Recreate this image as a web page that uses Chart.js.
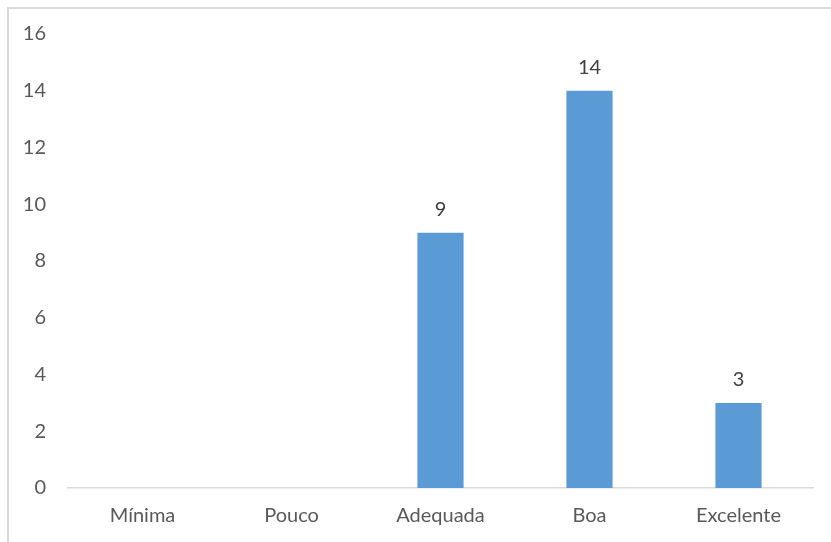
<!DOCTYPE html>
<html>
<head>
<meta charset="utf-8">
<script src="https://cdn.jsdelivr.net/npm/chart.js@4"></script>
<style>
  html, body { margin: 0; padding: 0; background: #fff; }
  #wrap { position: relative; width: 831px; height: 542px; overflow: hidden; }
  #frame { position: absolute; left: 7px; top: 7px; width: 900px; height: 600px;
           border-left: 2px solid #d9d9d9; border-top: 2px solid #d9d9d9; box-sizing: border-box; }
  canvas { position: absolute; left: 0; top: 0; }
</style>
</head>
<body>
<div id="wrap">
  <div id="frame"></div>
  <canvas id="bars" width="831" height="542"></canvas>
</div>
<script>
const categories = ['Mínima', 'Pouco', 'Adequada', 'Boa', 'Excelente'];
const counts = [0, 0, 9, 14, 3];
const yTicks = [0, 2, 4, 6, 8, 10, 12, 14, 16];

// value labels above each non-zero bar
const valueLabels = {
    id: 'valueLabels',
    afterDatasetsDraw(chart) {
        const ctx = chart.ctx;
        const meta = chart.getDatasetMeta(0);
        ctx.save();
        ctx.font = '20px Lato';
        ctx.fillStyle = '#404040';
        ctx.textAlign = 'center';
        ctx.textBaseline = 'alphabetic';
        meta.data.forEach((bar, i) => {
            if (!counts[i]) return;
            ctx.fillText(String(counts[i]), bar.x, bar.y - 17);
        });
        ctx.restore();
    }
};

const ctx = document.getElementById('bars');

new Chart(ctx, {
    type: 'bar',
    data: {
        labels: categories,
        datasets: [{
            data: counts,
            backgroundColor: '#5b9bd5',
            categoryPercentage: 1,
            barPercentage: 0.31
        }]
    },
    options: {
        responsive: false,
        animation: false,
        layout: { padding: { top: 34, right: 18, bottom: 0, left: 0 } },
        plugins: { legend: { display: false }, tooltip: { enabled: false } },
        scales: {
            x: {
                grid: { display: false, drawTicks: false },
                border: { display: true, color: '#d9d9d9', width: 1.5 },
                ticks: { color: '#595959', font: { family: 'Lato', size: 20 }, padding: 16 },
                afterFit(scale) { scale.height = 54; }
            },
            y: {
                min: 0,
                max: 16,
                afterBuildTicks(scale) { scale.ticks = yTicks.map(v => ({ value: v })); },
                grid: { display: false, drawTicks: false },
                border: { display: false },
                ticks: { color: '#595959', font: { family: 'Lato', size: 20 }, padding: 22 },
                afterFit(scale) { scale.width = 68; }
            }
        }
    },
    plugins: [valueLabels]
});
</script>
</body>
</html>
